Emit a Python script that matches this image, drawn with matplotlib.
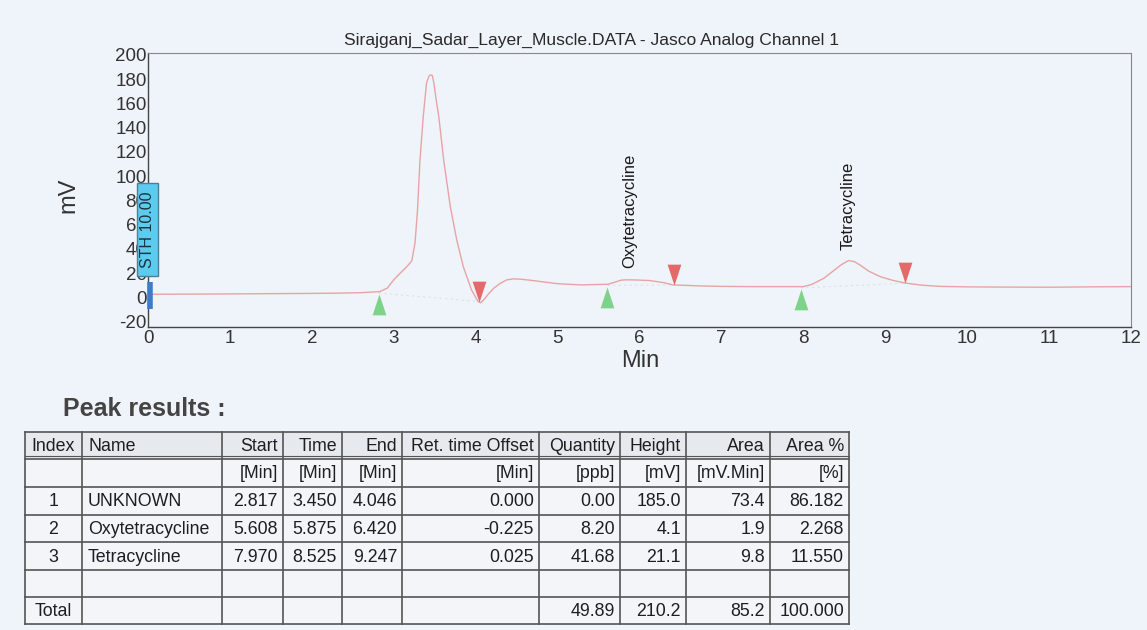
import matplotlib
matplotlib.use("Agg")
import matplotlib.pyplot as plt
from matplotlib.patches import Rectangle

plt.rcParams['font.family'] = ['Liberation Sans', 'DejaVu Sans']
plt.rcParams['axes.unicode_minus'] = False

# chromatogram trace (Min, mV)
t_min = [0, 0.5, 1.0, 1.5, 2.0, 2.3, 2.6, 2.83, 2.92, 3.0, 3.08, 3.16, 3.22, 3.26, 3.29,
         3.32, 3.36, 3.40, 3.43, 3.45, 3.47, 3.49, 3.52, 3.55, 3.61, 3.69, 3.77, 3.85,
         3.95, 4.03, 4.06, 4.10, 4.16, 4.22, 4.30, 4.38, 4.46, 4.54, 4.65, 4.79, 5.0,
         5.3, 5.62, 5.70, 5.78, 5.84, 5.95, 6.13, 6.30, 6.41, 6.74, 7.0, 7.4, 7.72, 8.0,
         8.10, 8.25, 8.38, 8.46, 8.55, 8.62, 8.69, 8.80, 8.94, 9.10, 9.26, 9.45, 9.67,
         10.0, 10.5, 11.0, 11.5, 12.0]
signal_mv = [2.5, 2.6, 2.8, 3.0, 3.2, 3.4, 3.8, 4.7, 7.5, 14.4, 20, 25.3, 30, 45, 72,
             113, 149, 176.6, 182.5, 183.5, 183, 176.6, 162, 149, 113, 75, 47, 25,
             6, -3.5, -4.5, -2, 3, 7.5, 11.5, 14.4, 15.2, 15, 14.2, 13, 11.2,
             10.2, 10.8, 12.5, 14.2, 14.4, 14.3, 13.8, 12, 10.2, 9.4, 9.0, 8.8, 8.8, 8.8,
             10.5, 15.7, 22.5, 26.7, 30.3, 29.5, 26.7, 21.5, 17, 13.8, 11.6, 10, 9.0,
             8.6, 8.4, 8.3, 8.6, 8.8]

# peak table
idx = ["1", "2", "3"]
names = ["UNKNOWN", "Oxytetracycline", "Tetracycline"]
start = [2.817, 5.608, 7.970]
rtime = [3.450, 5.875, 8.525]
end = [4.046, 6.420, 9.247]
offset = [0.000, -0.225, 0.025]
quantity = [0.00, 8.20, 41.68]
height = [185.0, 4.1, 21.1]
area = [73.4, 1.9, 9.8]
area_pct = [86.182, 2.268, 11.550]
totals = {"Quantity": 49.89, "Height": 210.2, "Area": 85.2, "Area %": 100.000}

# levels of the trace where the peak start/end markers sit
start_level = [4.5, 10.8, 8.8]
end_level = [-3.5, 10.2, 11.6]

bg = '#eff3fa'
fig = plt.figure(figsize=(11.47, 6.30), dpi=100, facecolor=bg)
W, H = 1147, 630
ax = fig.add_axes([148 / W, 1 - 327 / H, (1131 - 148) / W, (327 - 53) / H])
ax.set_facecolor(bg)

ax.plot(t_min, signal_mv, color='#e8a4a4', lw=1.0, zorder=3)

# faint integration baselines
for s, e, sl, el in zip(start, end, start_level, end_level):
    ax.plot([s, e], [sl - 1, el], color='#dde0e8', lw=0.8, ls=(0, (2, 3)), zorder=2)

up = [(0, 0), (-0.33, -1), (0.33, -1)]
down = [(0, 0), (-0.33, 1), (0.33, 1)]
for s, sl in zip(start, start_level):
    ax.plot(s, sl - 2, marker=up, ms=30, color='#7ed38a', mec='none', zorder=4)
for e, el in zip(end, end_level):
    ax.plot(e, el, marker=down, ms=30, color='#e46a6a', mec='none', zorder=4)

# peak names
ax.text(5.88, 24, "Oxytetracycline", rotation=90, ha='center', va='bottom',
        fontsize=12, color='#1a1a1a')
ax.text(8.55, 39, "Tetracycline", rotation=90, ha='center', va='bottom',
        fontsize=12, color='#1a1a1a')

# STH marker at time zero
ax.plot([0.03, 0.03], [-9.6, 12.7], color='#3d7cc9', lw=4, solid_capstyle='butt',
        clip_on=False, zorder=5)
ax.add_patch(Rectangle((-0.134, 17.6), 0.256, 77, facecolor='#5ccbee', edgecolor='#4d7f98',
                       lw=1, clip_on=False, zorder=6))
ax.text(-0.006, 56, "STH 10.00", rotation=90, ha='center', va='center', fontsize=11.5,
        color='#1d3340', zorder=7, clip_on=False)

ax.set_xlim(0, 12)
ax.set_ylim(-24.5, 201.5)
ax.set_xticks(range(0, 13))
ax.set_yticks(range(-20, 201, 20))
ax.tick_params(axis='both', length=0, labelsize=13.5, labelcolor='#333333')
ax.tick_params(axis='y', pad=1)
ax.tick_params(axis='x', pad=2)
for side in ['left', 'bottom']:
    ax.spines[side].set_color('#444444')
    ax.spines[side].set_linewidth(1.0)
for side in ['top', 'right']:
    ax.spines[side].set_color('#888888')
    ax.spines[side].set_linewidth(0.8)

fig.text(592 / W, 1 - 40 / H, "Sirajganj_Sadar_Layer_Muscle.DATA - Jasco Analog Channel 1",
         ha='center', va='center', fontsize=12.6, color='#2a2a2a')
fig.text(68 / W, 1 - 195 / H, "mV", rotation=90, ha='center', va='center',
         fontsize=17, color='#333333')
fig.text(640 / W, 1 - 361 / H, "Min", ha='center', va='center', fontsize=17, color='#333333')

# table drawn in pixel coordinates on an overlay axes
tab = fig.add_axes([0, 0, 1, 1])
tab.set_xlim(0, W)
tab.set_ylim(H, 0)
tab.axis('off')

fig.text(63 / W, 1 - 409 / H, "Peak results :", ha='left', va='center', fontsize=18,
         fontweight='bold', color='#444444')

cols = [25, 82, 222, 283, 342, 402, 539, 620, 686, 770, 849]
rows = [432, 459, 487, 515, 542, 570, 597, 624]
line_c = '#555555'
tab.add_patch(Rectangle((cols[0], rows[0]), cols[-1] - cols[0], rows[1] - rows[0],
                        facecolor='#e6e9ee', edgecolor='none'))
tab.add_patch(Rectangle((cols[0], rows[1]), cols[-1] - cols[0], rows[-1] - rows[1],
                        facecolor='#f3f5f9', edgecolor='none'))
for x in cols:
    tab.plot([x, x], [rows[0], rows[-1]], color=line_c, lw=1.2)
for y in rows:
    tab.plot([cols[0], cols[-1]], [y, y], color=line_c, lw=1.2)
tab.plot([cols[0], cols[-1]], [rows[1] - 3, rows[1] - 3], color=line_c, lw=0.8)

headers = ["Index", "Name", "Start", "Time", "End", "Ret. time Offset", "Quantity",
           "Height", "Area", "Area %"]
units = ["", "", "[Min]", "[Min]", "[Min]", "[Min]", "[ppb]", "[mV]", "[mV.Min]", "[%]"]
fs = 12.8
tc = '#1e1e1e'


def cell(text, col, row, align='right'):
    y = (rows[row] + rows[row + 1]) / 2 + 1
    if align == 'right':
        tab.text(cols[col + 1] - 5, y, text, ha='right', va='center', fontsize=fs, color=tc)
    elif align == 'left':
        tab.text(cols[col] + 6, y, text, ha='left', va='center', fontsize=fs, color=tc)
    else:
        tab.text((cols[col] + cols[col + 1]) / 2, y, text, ha='center', va='center',
                 fontsize=fs, color=tc)


for c, h in enumerate(headers):
    cell(h, c, 0, 'center' if c == 0 else ('left' if c == 1 else 'right'))
for c, u in enumerate(units):
    if u:
        cell(u, c, 1)

for r in range(3):
    vals = [f"{start[r]:.3f}", f"{rtime[r]:.3f}", f"{end[r]:.3f}", f"{offset[r]:.3f}",
            f"{quantity[r]:.2f}", f"{height[r]:.1f}", f"{area[r]:.1f}", f"{area_pct[r]:.3f}"]
    cell(idx[r], 0, r + 2, 'center')
    cell(names[r], 1, r + 2, 'left')
    for c, v in enumerate(vals):
        cell(v, c + 2, r + 2)

cell("Total", 0, 6, 'center')
cell(f"{totals['Quantity']:.2f}", 6, 6)
cell(f"{totals['Height']:.1f}", 7, 6)
cell(f"{totals['Area']:.1f}", 8, 6)
cell(f"{totals['Area %']:.3f}", 9, 6)

fig.savefig("out.png", dpi=100, facecolor=bg)
